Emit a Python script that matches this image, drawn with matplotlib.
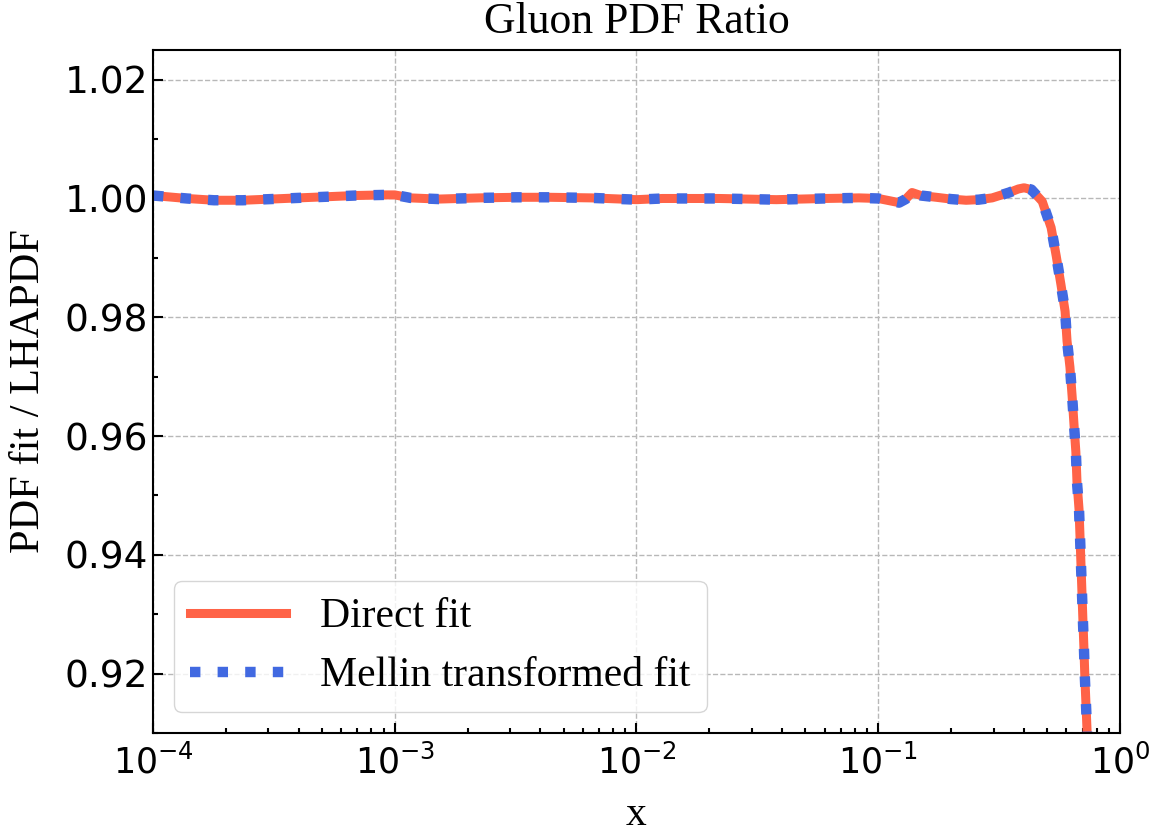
import matplotlib
matplotlib.use("Agg")
import matplotlib.pyplot as plt
from matplotlib.ticker import MultipleLocator, LogLocator, NullFormatter
import numpy as np

# valores: x y cociente PDF ajuste / LHAPDF
x_vals = [1.0e-4, 1.38e-4, 1.79e-4, 2.35e-4, 3.08e-4, 4.0e-4, 5.28e-4, 6.9e-4,
          9.0e-4, 1.0e-3, 1.16e-3, 1.52e-3, 2.24e-3, 3.2e-3, 4.37e-3, 6.5e-3,
          1.0e-2, 1.28e-2, 2.2e-2, 3.79e-2, 6.0e-2, 8.33e-2, 0.1, 0.112, 0.122,
          0.13, 0.138, 0.15, 0.174, 0.2, 0.231, 0.26, 0.296, 0.348, 0.38,
          0.401, 0.43, 0.477, 0.519, 0.545, 0.570, 0.593, 0.604, 0.621, 0.634,
          0.646, 0.657, 0.664, 0.677, 0.684, 0.690, 0.697, 0.703, 0.710,
          0.716, 0.724, 0.731, 0.740]
ratio_direct = [1.0005, 1.0000, 0.9997, 0.9997, 0.9999, 1.0001, 1.0003, 1.0005,
                1.0006, 1.0006, 1.0001, 0.9999, 1.0001, 1.0002, 1.0002, 1.0001,
                0.9998, 1.0000, 1.0000, 0.9998, 1.0000, 1.0001, 1.0000, 0.9996, 0.9993,
                0.9999, 1.0010, 1.0005, 1.0002, 0.9999, 0.9997, 0.9998, 1.0001, 1.0010, 1.0016,
                1.0018, 1.0015, 0.9995, 0.9951, 0.9903, 0.9855, 0.9810, 0.9760, 0.9716, 0.9667,
                0.9617, 0.9573, 0.9523, 0.9477, 0.9427, 0.9382, 0.9331, 0.9287, 0.9239,
                0.9192, 0.9145, 0.9103, 0.9000]
ratio_mellin = list(ratio_direct)

plt.rcParams['mathtext.fontset'] = 'dejavusans'
serif = ['Liberation Serif', 'DejaVu Serif']

fig = plt.figure(figsize=(11.67, 8.32), dpi=100)
ax = fig.add_axes([0.1311, 0.1190, 0.8286, 0.8209])

ax.plot(x_vals, ratio_direct, color='tomato', lw=6.5, label='Direct fit')
ax.plot(x_vals, ratio_mellin, color='royalblue', lw=7.5, linestyle=':',
        label='Mellin transformed fit')

ax.set_xscale('log')
ax.set_xlim(1e-4, 1)
ax.set_ylim(0.91, 1.025)
ax.yaxis.set_major_locator(MultipleLocator(0.02))
ax.yaxis.set_minor_locator(MultipleLocator(0.01))
ax.xaxis.set_minor_locator(LogLocator(base=10, subs=np.arange(2, 10) * 1.0, numticks=20))
ax.xaxis.set_minor_formatter(NullFormatter())

ax.tick_params(which='both', direction='in', width=1.5)
ax.tick_params(axis='x', labelsize=25, pad=8)
ax.tick_params(axis='y', labelsize=27)
ax.tick_params(which='major', length=7)
ax.tick_params(which='minor', length=3.5)
for s in ax.spines.values():
    s.set_linewidth(1.5)

ax.grid(True, which='major', linestyle='--', color='#b8b8b8', lw=1)

ax.set_title('Gluon PDF Ratio', fontsize=31.5, family=serif, pad=12)
ax.set_xlabel('x', fontsize=30, family=serif, labelpad=11)
ax.set_ylabel('PDF fit / LHAPDF', fontsize=30.5, family=serif, labelpad=12)

ax.legend(loc='lower left', prop={'family': serif, 'size': 30}, handlelength=2.3)

fig.savefig('out.png', dpi=100)
